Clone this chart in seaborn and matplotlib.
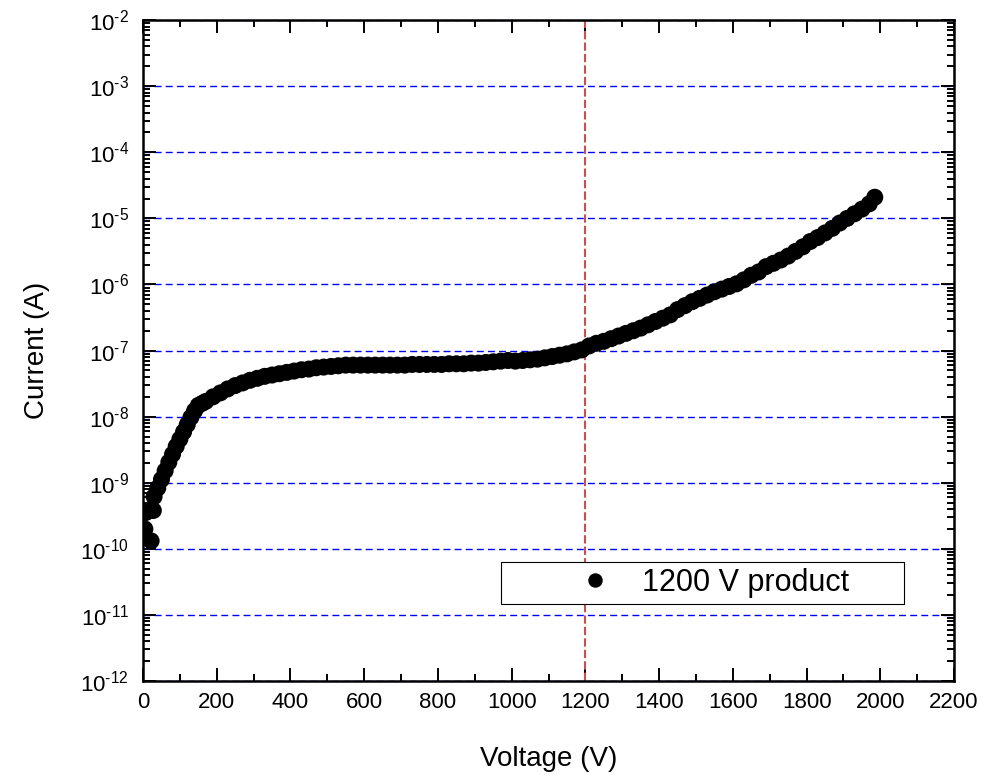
import matplotlib
matplotlib.use("Agg")
import matplotlib.pyplot as plt
import matplotlib.ticker as mticker
import numpy as np
import pandas as pd
import seaborn as sns

# ---- data ----
voltage = [5, 8, 22, 28, 30, 40, 50, 60, 70, 80, 90, 100, 110, 120, 130, 140, 150, 160,
           170, 190, 210, 230, 250, 270, 290, 310, 330, 350, 370, 390, 410, 430, 450, 470,
           490, 510, 530, 550, 570, 590, 610, 630, 650, 670, 690, 710, 730, 750, 770, 790,
           810, 830, 850, 870, 890, 910, 930, 950, 970, 990, 1010, 1030, 1050, 1070, 1090,
           1110, 1130, 1150, 1170, 1190, 1210, 1230, 1250, 1270, 1290, 1310, 1330, 1350,
           1370, 1390, 1410, 1430, 1450, 1470, 1490, 1510, 1530, 1550, 1570, 1590, 1610,
           1630, 1650, 1670, 1690, 1710, 1730, 1750, 1770, 1790, 1810, 1830, 1850, 1870,
           1890, 1910, 1930, 1950, 1970, 1985]
log10_current = [-9.70, -9.45, -9.88, -9.42, -9.21, -9.08, -8.95, -8.82, -8.69, -8.57, -8.45,
                 -8.34, -8.23, -8.12, -8.01, -7.91, -7.83, -7.80,
                 -7.77, -7.70, -7.64, -7.58, -7.53, -7.49, -7.45, -7.42, -7.39, -7.37, -7.35,
                 -7.33, -7.31, -7.29, -7.28, -7.26, -7.25, -7.24, -7.23, -7.22, -7.22, -7.22,
                 -7.22, -7.22, -7.22, -7.22, -7.22, -7.22, -7.21, -7.21, -7.21, -7.21, -7.21,
                 -7.20, -7.20, -7.20, -7.19, -7.19, -7.18, -7.17, -7.16, -7.15, -7.16, -7.15,
                 -7.14, -7.13, -7.11, -7.09, -7.07, -7.05, -7.02, -6.99, -6.93, -6.89, -6.86,
                 -6.82, -6.78, -6.74, -6.70, -6.66, -6.61, -6.56, -6.51, -6.46, -6.38, -6.32,
                 -6.26, -6.21, -6.16, -6.11, -6.07, -6.03, -5.99, -5.93, -5.86, -5.81, -5.73,
                 -5.68, -5.63, -5.57, -5.50, -5.43, -5.35, -5.29, -5.22, -5.15, -5.07, -5.00,
                 -4.93, -4.86, -4.78, -4.68]
series_label = "1200 V product"
rated_voltage = 1200
x_ticks = [0, 200, 400, 600, 800, 1000, 1200, 1400, 1600, 1800, 2000, 2200]

df = pd.DataFrame({"Voltage": voltage,
                   "Current": np.power(10.0, log10_current),
                   "series": series_label})

sns.set_style("ticks")
plt.rcParams["font.family"] = ["Liberation Sans", "DejaVu Sans"]
plt.rcParams["mathtext.fontset"] = "custom"
plt.rcParams["mathtext.rm"] = "Liberation Sans"
plt.rcParams["mathtext.it"] = "Liberation Sans:italic"
plt.rcParams["mathtext.bf"] = "Liberation Sans:bold"
plt.rcParams["mathtext.default"] = "regular"
for key in ["text.color", "axes.labelcolor", "xtick.color", "ytick.color", "axes.edgecolor"]:
    plt.rcParams[key] = "black"

fig, ax = plt.subplots(figsize=(9.87, 7.75), dpi=100)
fig.subplots_adjust(left=0.1449, right=0.9666, bottom=0.1213, top=0.974)

sns.scatterplot(data=df, x="Voltage", y="Current", hue="series", palette=["black"],
                s=150, edgecolor="black", linewidth=0, ax=ax, zorder=3)

ax.set_yscale("log")
ax.set_xlim(0, 2200)
ax.set_ylim(1e-12, 1e-2)

ax.xaxis.set_major_locator(mticker.FixedLocator(x_ticks))
ax.xaxis.set_minor_locator(mticker.MultipleLocator(100))
ax.yaxis.set_major_locator(mticker.LogLocator(base=10, numticks=30))
ax.yaxis.set_minor_locator(mticker.LogLocator(base=10, subs=np.arange(2, 10), numticks=30))
ax.yaxis.set_minor_formatter(mticker.NullFormatter())
ax.yaxis.set_major_formatter(mticker.FuncFormatter(
    lambda v, p: r"$10^{\text{-%d}}$" % (-int(round(np.log10(v))))))

ax.yaxis.grid(True, which="major", color="#0000ff", linestyle=(0, (5, 3)), linewidth=1.0)
ax.xaxis.grid(False)
ax.set_axisbelow(True)

ax.axvline(rated_voltage, color="#c9504f", linestyle=(0, (4, 1.5)), linewidth=1.5, zorder=2)

for sp in ax.spines.values():
    sp.set_visible(True)
    sp.set_linewidth(1.8)
    sp.set_color("black")
    sp.set_zorder(5)

ax.tick_params(which="both", direction="in", top=True, right=True, color="black", width=1.4)
ax.tick_params(which="major", length=9.5)
ax.tick_params(which="minor", length=5)
ax.tick_params(axis="x", which="major", labelsize=16, pad=8, labelcolor="black")
ax.tick_params(axis="y", which="major", labelsize=16, pad=10, labelcolor="black")

ax.set_xlabel("Voltage (V)", fontsize=20, labelpad=24, color="black")
ax.set_ylabel("Current (A)", fontsize=20, labelpad=22, color="black")

handles, labels = ax.get_legend_handles_labels()
leg = ax.legend(handles, labels, loc="center", mode="expand",
                bbox_to_anchor=(0.441, 0.115, 0.497, 0.0665),
                fontsize=22, frameon=True, fancybox=False, shadow=False,
                borderpad=0.2, handlelength=5.77, handletextpad=-1.33,
                markerscale=0.85, borderaxespad=0)
leg.get_frame().set_edgecolor("black")
leg.get_frame().set_linewidth(0.8)
leg.get_frame().set_alpha(1)
for t in leg.get_texts():
    t.set_color("black")

fig.savefig("out.png", dpi=100)
